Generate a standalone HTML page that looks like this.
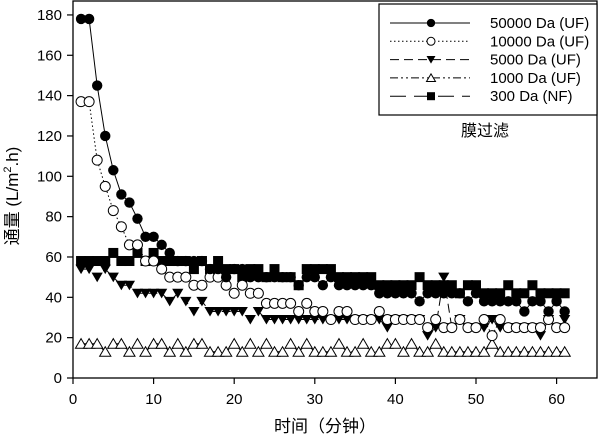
<!DOCTYPE html>
<html><head><meta charset="utf-8"><style>
html,body{margin:0;padding:0;background:#fff;}
svg{display:block;font-family:"Liberation Sans","Noto Sans CJK SC",sans-serif;}
</style></head><body>
<svg id="s" width="600" height="441" viewBox="0 0 600 441" xmlns="http://www.w3.org/2000/svg">
<rect x="73" y="1" width="524" height="377" fill="none" stroke="#000" stroke-width="1.3"/>
<g id="ticks" stroke="#000" stroke-width="1.2"></g>
<g id="lab" font-size="15" fill="#000"></g>
<g id="data"></g>
<text x="18" y="196" font-size="17" transform="rotate(-90 18 196)" text-anchor="middle">通量 (L/m<tspan font-size="11" dy="-7">2</tspan><tspan dy="7">.h)</tspan></text>
<text x="325" y="432" font-size="17" text-anchor="middle">时间（分钟）</text>
<text x="485" y="136" font-size="16" text-anchor="middle">膜过滤</text>
<rect x="379" y="4" width="218" height="111" fill="#fff" stroke="#000" stroke-width="1.2"/>
<g id="leg"></g>
</svg>
<script>
const NS="http://www.w3.org/2000/svg";
function el(p,t,a){const e=document.createElementNS(NS,t);for(const k in a)e.setAttribute(k,a[k]);p.appendChild(e);return e;}
const X=v=>73+v*8.06, Y=v=>378-v*2.017;
const T=document.getElementById('ticks'),L=document.getElementById('lab');
for(let v=0;v<=180;v+=20){el(T,'line',{x1:67,x2:73,y1:Y(v),y2:Y(v)});const t=el(L,'text',{x:62,y:Y(v)+5,'text-anchor':'end'});t.textContent=v;}
for(let v=0;v<=60;v+=10){el(T,'line',{x1:X(v),x2:X(v),y1:378,y2:384});const t=el(L,'text',{x:X(v),y:404,'text-anchor':'middle'});t.textContent=v;}
const s50=[178,178,145,120,103,91,87,79,70,70,66,62,58,58,58,58,54,54,50,54,54,50,50,50,50,50,50,46,50,50,46,50,46,46,46,46,46,42,42,42,42,42,38,42,42,42,42,42,38,42,38,38,38,38,38,33,38,38,33,38,33];
const s10=[137,137,108,95,83,75,66,66,58,58,54,50,50,50,46,46,50,50,46,42,46,42,42,37,37,37,37,33,37,33,33,29,33,33,29,29,29,33,29,29,29,29,29,25,29,25,25,29,25,25,29,21,29,25,25,25,25,25,29,25,25];
const s5=[54,54,50,54,50,46,46,42,42,42,42,38,42,38,33,38,33,33,33,33,33,29,33,29,29,29,29,29,29,29,29,29,29,29,29,29,29,29,25,29,29,29,29,21,25,50,25,29,25,25,25,29,25,25,25,25,25,21,29,25,29];
const s1=[17,17,17,13,17,17,13,17,13,17,17,13,17,13,17,17,13,13,13,17,13,17,13,17,13,13,17,13,17,13,13,13,17,13,13,17,13,13,17,17,13,17,13,13,17,13,13,13,13,13,13,17,13,13,13,13,13,13,13,13,13];
const s3=[58,58,58,58,62,58,58,62,58,62,58,58,58,58,54,58,54,58,54,54,50,54,54,50,54,50,50,46,54,54,54,54,50,50,50,50,50,46,46,46,46,46,50,46,46,46,46,42,46,46,42,42,42,46,42,42,46,42,42,42,42];
const D=document.getElementById('data');
function mk(g,type,x,y,sc){sc=sc||1;
 if(type=='fc')el(g,'circle',{cx:x,cy:y,r:5.2*sc,fill:'#000'});
 if(type=='oc')el(g,'circle',{cx:x,cy:y,r:5*sc,fill:'#fff',stroke:'#000','stroke-width':1});
 if(type=='dt'){const r=5.6*sc;el(g,'polygon',{points:`${x-r},${y-r*0.8} ${x+r},${y-r*0.8} ${x},${y+r*0.9}`,fill:'#000'});}
 if(type=='ut'){const r=5.6*sc;el(g,'polygon',{points:`${x-r},${y+r*0.8} ${x+r},${y+r*0.8} ${x},${y-r*0.9}`,fill:'#fff',stroke:'#000','stroke-width':1});}
 if(type=='sq'){const r=5*sc;el(g,'rect',{x:x-r,y:y-r,width:2*r,height:2*r,fill:'#000'});}
}
const series=[[s1,'ut','8 3 2 3 2 3'],[s5,'dt','9 5'],[s3,'sq','16 8'],[s10,'oc','1.5 2.5'],[s50,'fc','']];
for(const [d,t,da] of series){const g=el(D,'g',{});
 el(g,'polyline',{points:d.map((v,i)=>X(i+1)+','+Y(v)).join(' '),fill:'none',stroke:'#000','stroke-width':1,'stroke-dasharray':da});
 d.forEach((v,i)=>mk(g,t,X(i+1),Y(v)));}
const G=document.getElementById('leg');
const li=[['fc','','50000 Da (UF)'],['oc','1.5 2.5','10000 Da (UF)'],['dt','9 5','5000 Da (UF)'],['ut','8 3 2 3 2 3','1000 Da (UF)'],['sq','16 8','300 Da (NF)']];
li.forEach((l,i)=>{const y=23+i*18.3;
 el(G,'line',{x1:390,x2:470,y1:y,y2:y,stroke:'#000','stroke-width':1,'stroke-dasharray':l[1]});
 mk(G,l[0],431,y,0.8);
 const t=el(G,'text',{x:490,y:y+5,'font-size':15});t.textContent=l[2];});
</script>
</body></html>
